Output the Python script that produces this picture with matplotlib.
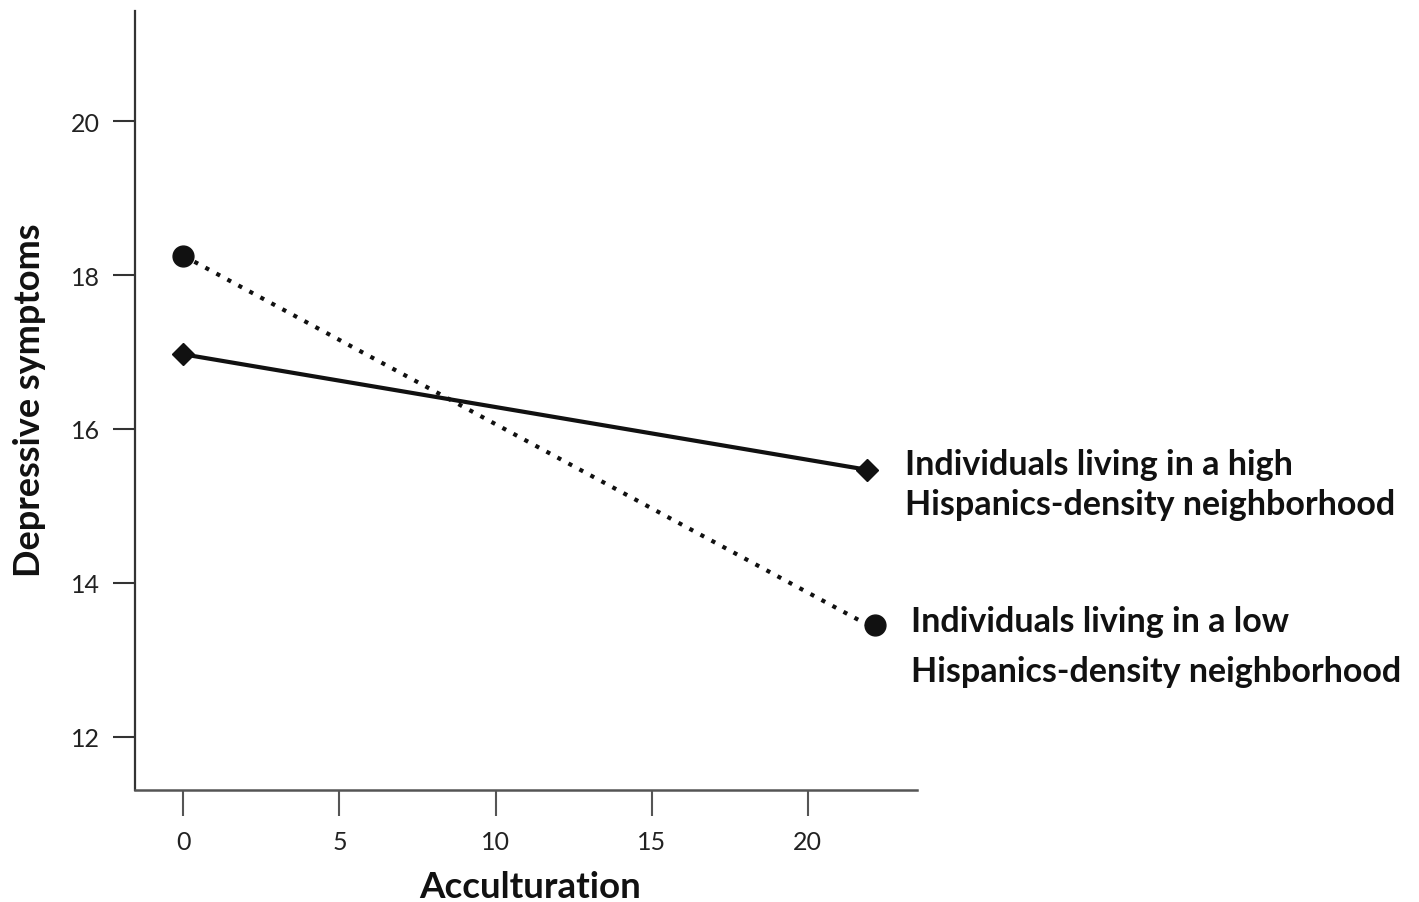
import matplotlib
matplotlib.use("Agg")
import matplotlib.pyplot as plt

plt.rcParams['font.family'] = ['Lato', 'DejaVu Sans']

# Data
acculturation = [0, 21.9]
high_density = [16.97, 15.47]
low_density = [18.25, 13.46]
x_ticks = [0, 5, 10, 15, 20]
y_ticks = [12, 14, 16, 18, 20]
high_label = ["Individuals living in a high", "Hispanics-density neighborhood"]
low_label = ["Individuals living in a low", "Hispanics-density neighborhood"]

W, H = 1419, 903
fig = plt.figure(figsize=(W / 100, H / 100), dpi=100)
ax = fig.add_axes([135 / W, 1 - 791 / H, (917 - 135) / W, (791 - 12) / H])

ax.plot(acculturation, high_density, color='#111111', lw=3.0, marker='D', ms=11,
        solid_capstyle='butt')
ax.plot(acculturation, low_density, color='#111111', lw=3.0, linestyle=(0, (1, 2)),
        dash_capstyle='butt')
ax.plot([acculturation[0]], [low_density[0]], 'o', color='#111111', ms=15)
ax.plot([acculturation[1] + 0.25], [low_density[1]], 'o', color='#111111', ms=15)

ax.set_xlim(-1.55, 23.5)
ax.set_ylim(11.31, 21.43)
ax.set_xticks(x_ticks)
ax.set_yticks(y_ticks)
ax.tick_params(axis='y', length=16, width=1.5, colors='#333333', pad=9, labelsize=18)
ax.tick_params(axis='x', length=19, width=1.5, colors='#555555', pad=10, labelsize=18)
for lab in ax.get_xticklabels() + ax.get_yticklabels():
    lab.set_color('#222222')

for s in ['top', 'right']:
    ax.spines[s].set_visible(False)
ax.spines['left'].set_color('#333333')
ax.spines['left'].set_linewidth(1.6)
ax.spines['bottom'].set_color('#555555')
ax.spines['bottom'].set_linewidth(1.8)

fig.text(30 / W, 1 - 400 / H, "Depressive symptoms", rotation=90, ha='center', va='center',
         fontsize=26, fontweight='bold', color='#111111')
fig.text(530 / W, 1 - 888 / H, "Acculturation", ha='center', va='center',
         fontsize=26.5, fontweight='bold', color='#111111')

for text, xp, yp in [(high_label[0], 905, 475), (high_label[1], 905, 515),
                     (low_label[0], 911, 632), (low_label[1], 911, 682)]:
    fig.text(xp / W, 1 - yp / H, text, ha='left', va='baseline', fontsize=24.5,
             fontweight='bold', color='#111111')

fig.savefig("out.png", dpi=100)
